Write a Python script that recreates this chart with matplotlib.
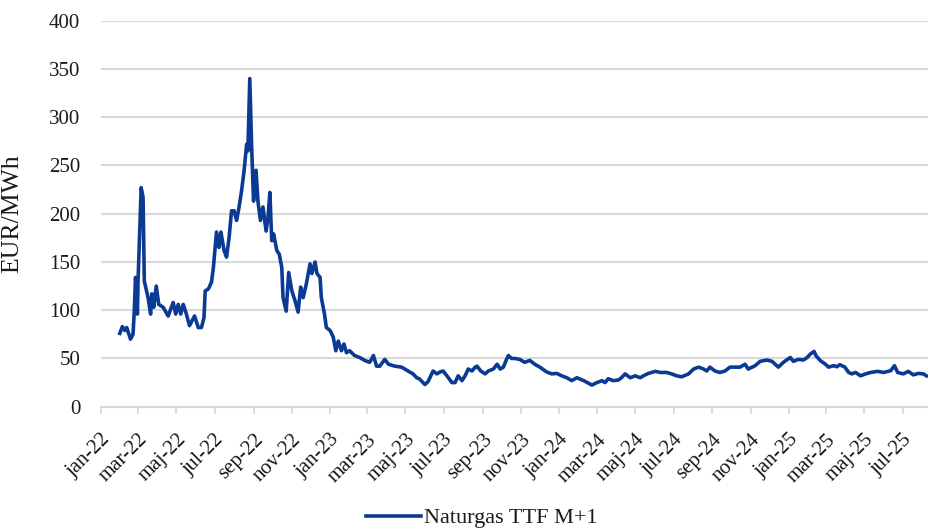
import matplotlib
matplotlib.use("Agg")
import matplotlib.pyplot as plt
import matplotlib.transforms as mtransforms
import pandas as pd

# TTF front month, EUR/MWh
dates_2022 = ["2022-01-31", "2022-02-04", "2022-02-08", "2022-02-11", "2022-02-17", "2022-02-21",
              "2022-02-23", "2022-02-25", "2022-02-28", "2022-03-01", "2022-03-06", "2022-03-09",
              "2022-03-11", "2022-03-17", "2022-03-21", "2022-03-23", "2022-03-26", "2022-03-30",
              "2022-04-03", "2022-04-10", "2022-04-18", "2022-04-26", "2022-04-30", "2022-05-04",
              "2022-05-08", "2022-05-12", "2022-05-17", "2022-05-22", "2022-05-30", "2022-06-05",
              "2022-06-10", "2022-06-14", "2022-06-16", "2022-06-21", "2022-06-26", "2022-06-29",
              "2022-07-04", "2022-07-08", "2022-07-11", "2022-07-16", "2022-07-20", "2022-07-24",
              "2022-07-28", "2022-08-01", "2022-08-05", "2022-08-09", "2022-08-13", "2022-08-17",
              "2022-08-21", "2022-08-23", "2022-08-26", "2022-08-29", "2022-09-01", "2022-09-05",
              "2022-09-08", "2022-09-12", "2022-09-16", "2022-09-21", "2022-09-24", "2022-09-27",
              "2022-09-30", "2022-10-03", "2022-10-08", "2022-10-12", "2022-10-16", "2022-10-18",
              "2022-10-23", "2022-10-27", "2022-11-01", "2022-11-06", "2022-11-11", "2022-11-15",
              "2022-11-19", "2022-11-24", "2022-11-30", "2022-12-03", "2022-12-08", "2022-12-11",
              "2022-12-16", "2022-12-18", "2022-12-23", "2022-12-26"]
ttf_2022 = [76, 83, 79, 82, 70, 75,
            99, 134, 96, 130, 227, 217,
            130, 113, 96, 117, 103, 125,
            106, 103, 94, 108, 96, 106,
            96, 106, 96, 84, 94, 82,
            82, 92, 120, 122, 129, 144,
            181, 165, 181, 162, 155, 175,
            203, 203, 193, 207, 224, 245,
            272, 265, 340, 269, 213, 245,
            213, 193, 207, 182, 196, 222,
            172, 179, 162, 158, 144, 113,
            99, 139, 120, 110, 98, 124,
            113, 127, 148, 138, 150, 138,
            134, 113, 96, 82]

dates_2023 = ["2023-01-01", "2023-01-06", "2023-01-10", "2023-01-14", "2023-01-19", "2023-01-23",
              "2023-01-27", "2023-02-01", "2023-02-09", "2023-02-17", "2023-02-25", "2023-03-05",
              "2023-03-11", "2023-03-16", "2023-03-21", "2023-03-29", "2023-04-04", "2023-04-14",
              "2023-04-25", "2023-05-05", "2023-05-13", "2023-05-19", "2023-05-23", "2023-06-01",
              "2023-06-06", "2023-06-14", "2023-06-20", "2023-06-25", "2023-06-30", "2023-07-06",
              "2023-07-14", "2023-07-19", "2023-07-24", "2023-07-30", "2023-08-04", "2023-08-09",
              "2023-08-15", "2023-08-20", "2023-08-23", "2023-08-29", "2023-09-05", "2023-09-10",
              "2023-09-18", "2023-09-24", "2023-09-29", "2023-10-04", "2023-10-09", "2023-10-12",
              "2023-10-17", "2023-10-22", "2023-10-30", "2023-11-07", "2023-11-15", "2023-11-23",
              "2023-12-01", "2023-12-12", "2023-12-20", "2023-12-28"]
ttf_2023 = [79, 72, 58, 68, 58, 65,
            56, 58, 53, 51, 48, 46,
            53, 42, 42, 49, 44, 42,
            41, 37, 34, 30, 29, 23,
            26, 37, 34, 36, 37, 32,
            25, 25, 32, 27, 32, 39,
            37, 41, 42, 37, 34, 37,
            39, 44, 39, 41, 49, 53,
            50, 50, 49, 46, 48, 44,
            41, 36, 34, 34.5]

dates_2024 = ["2024-01-05", "2024-01-13", "2024-01-21", "2024-01-29", "2024-02-09", "2024-02-22",
              "2024-03-01", "2024-03-09", "2024-03-14", "2024-03-19", "2024-03-27", "2024-04-04",
              "2024-04-09", "2024-04-15", "2024-04-23", "2024-05-01", "2024-05-09", "2024-05-14",
              "2024-05-22", "2024-06-02", "2024-06-10", "2024-06-20", "2024-06-28", "2024-07-06",
              "2024-07-14", "2024-07-25", "2024-08-02", "2024-08-10", "2024-08-18", "2024-08-23",
              "2024-08-28", "2024-09-05", "2024-09-13", "2024-09-21", "2024-09-29", "2024-10-07",
              "2024-10-15", "2024-10-23", "2024-10-28", "2024-11-08", "2024-11-16", "2024-11-27",
              "2024-12-05", "2024-12-15", "2024-12-23"]
ttf_2024 = [32, 30, 27, 30, 27, 22.4,
            25, 27, 25, 29, 27, 27.6,
            30, 34, 30, 32, 30, 32,
            34.5, 36.6, 35.5, 35.5, 34, 32,
            31, 34, 39, 41, 39, 37,
            41, 37, 35.5, 37, 41, 41,
            41, 44, 39, 42.5, 47, 48.4,
            47, 41, 46]

dates_2025 = ["2025-01-03", "2025-01-08", "2025-01-16", "2025-01-24", "2025-01-30", "2025-02-04",
              "2025-02-10", "2025-02-13", "2025-02-20", "2025-02-28", "2025-03-05", "2025-03-13",
              "2025-03-18", "2025-03-23", "2025-03-31", "2025-04-06", "2025-04-11", "2025-04-17",
              "2025-04-25", "2025-05-03", "2025-05-11", "2025-05-22", "2025-06-01", "2025-06-12",
              "2025-06-18", "2025-06-23", "2025-07-02", "2025-07-10", "2025-07-18", "2025-07-26",
              "2025-08-03", "2025-08-08"]
ttf_2025 = [51, 47, 49, 48.4, 51, 54.6,
            57.3, 52.8, 47.7, 44, 41, 42.5,
            41.4, 43.5, 41, 35.5, 34, 35.5,
            32, 34, 35.5, 36.6, 35.5, 37.3,
            42.5, 35.5, 34, 36.6, 33, 34.5,
            34, 32]

months_da = ["jan", "feb", "mar", "apr", "maj", "jun", "jul", "aug", "sep", "okt", "nov", "dec"]

dates = pd.to_datetime(dates_2022 + dates_2023 + dates_2024 + dates_2025)
ttf = ttf_2022 + ttf_2023 + ttf_2024 + ttf_2025

plt.rcParams["font.family"] = ["Liberation Serif", "DejaVu Serif"]
plt.rcParams["font.size"] = 15

fig = plt.figure(figsize=(9.29, 5.32), dpi=100)
ax = fig.add_axes([101 / 929, 1 - 406.7 / 532, 828 / 929, 386 / 532])

line, = ax.plot(dates, ttf, color="#0B3A94", lw=2.6, solid_joinstyle="round")

ax.set_ylim(0, 400)
ax.set_yticks(range(0, 401, 50))
ax.set_xlim(pd.Timestamp("2022-01-01"), pd.Timestamp("2025-08-12"))

ticks = pd.date_range("2022-01-01", "2025-07-01", freq="2MS")
ax.set_xticks(ticks)
ax.set_xticklabels([f"{months_da[t.month - 1]}-{t.strftime('%y')}" for t in ticks],
                   rotation=45, ha="right", va="top", rotation_mode="anchor")
shift = mtransforms.ScaledTranslation(3 / 72, 0, fig.dpi_scale_trans)
for lab in ax.get_xticklabels():
    lab.set_transform(lab.get_transform() + shift)

for s in ["top", "right", "left"]:
    ax.spines[s].set_visible(False)
ax.spines["bottom"].set_color("#D9D9D9")
ax.spines["bottom"].set_linewidth(1.5)
ax.grid(axis="y", color="#D9D9D9", lw=1.5)
ax.set_axisbelow(True)
ax.tick_params(axis="y", length=0, pad=15, labelcolor="#1a1a1a")
ax.tick_params(axis="x", length=5, width=1.2, color="#D9D9D9", pad=12, labelcolor="#1a1a1a")

ax.set_ylabel("EUR/MWh", fontsize=18.5, color="#1a1a1a")
ax.yaxis.set_label_coords(-0.094, 0.5)

fig.legend([line], ["Naturgas TTF M+1"], loc="center", bbox_to_anchor=(482 / 929, 1 - 518 / 532),
           frameon=False, handlelength=2.45, handletextpad=0.15, fontsize=16,
           labelcolor="#1a1a1a")

fig.savefig("out.png", dpi=100)
